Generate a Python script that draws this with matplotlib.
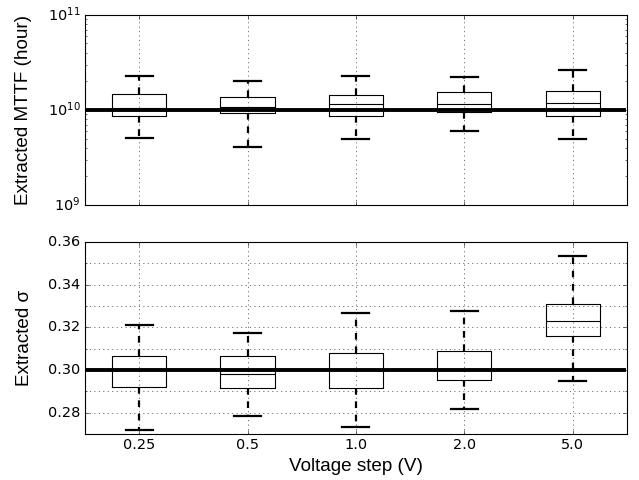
import numpy as np
import matplotlib
matplotlib.use('Agg')
import matplotlib.pyplot as plt
from matplotlib.ticker import MultipleLocator

plt.style.use('classic')

steps = ['0.25', '0.5', '1.0', '2.0', '5.0']

# extracted MTTF (hour)
mttf_lo = [5.04e9, 4.05e9, 4.95e9, 5.97e9, 5.0e9]
mttf_q1 = [8.65e9, 9.23e9, 8.65e9, 9.6e9, 8.65e9]
mttf_med = [1.057e10, 1.08e10, 1.16e10, 1.15e10, 1.19e10]
mttf_q3 = [1.47e10, 1.38e10, 1.44e10, 1.54e10, 1.60e10]
mttf_hi = [2.28e10, 2.03e10, 2.30e10, 2.24e10, 2.64e10]
mttf_true = 1e10

# extracted sigma
sig_lo = [0.2717, 0.2782, 0.2734, 0.2817, 0.2949]
sig_q1 = [0.2922, 0.2917, 0.2915, 0.2952, 0.3161]
sig_med = [0.2998, 0.2980, 0.3000, 0.3000, 0.3229]
sig_q3 = [0.3065, 0.3063, 0.3080, 0.3090, 0.3309]
sig_hi = [0.3210, 0.3175, 0.3266, 0.3278, 0.3535]
sig_true = 0.30


def make_stats(lo, q1, med, q3, hi):
    return [{'whislo': a, 'q1': b, 'med': c, 'q3': d, 'whishi': e, 'fliers': []}
            for a, b, c, d, e in zip(lo, q1, med, q3, hi)]


def draw_boxes(ax, stats):
    ax.bxp(stats, widths=0.5, showfliers=False,
           boxprops=dict(color='k', lw=1),
           medianprops=dict(color='k', lw=1),
           whiskerprops=dict(color='k', lw=2, ls='--'),
           capprops=dict(color='k', lw=2))


plt.rcParams['xtick.labelsize'] = 13
plt.rcParams['ytick.labelsize'] = 13

fig = plt.figure(figsize=(639 / 80., 6), dpi=80, facecolor='w')
ax1 = fig.add_axes([0.133, 0.573, 0.848, 0.396])
ax2 = fig.add_axes([0.133, 0.096, 0.848, 0.400])

LBL = dict(fontsize=17, family=['Liberation Sans', 'DejaVu Sans'], labelpad=14)

# top: MTTF
draw_boxes(ax1, make_stats(mttf_lo, mttf_q1, mttf_med, mttf_q3, mttf_hi))
ax1.set_yscale('log')
ax1.set_ylim(1e9, 1e11)
ax1.axhline(mttf_true, xmax=0.995, color='k', lw=3.5)
ax1.set_xlim(0.5, 5.5)
ax1.set_xticks(range(1, len(steps) + 1))
ax1.set_xticklabels([])
ax1.xaxis.grid(True)
ax1.set_ylabel('Extracted MTTF (hour)', **LBL)

# bottom: sigma
draw_boxes(ax2, make_stats(sig_lo, sig_q1, sig_med, sig_q3, sig_hi))
ax2.axhline(sig_true, xmax=0.995, color='k', lw=3.5)
ax2.set_xlim(0.5, 5.5)
ax2.set_ylim(0.27, 0.36)
ax2.yaxis.set_major_locator(MultipleLocator(0.02))
ax2.yaxis.set_minor_locator(MultipleLocator(0.01))
ax2.set_xticks(range(1, len(steps) + 1))
ax2.set_xticklabels(steps)
ax2.grid(True, which='both')
ax2.set_ylabel('Extracted \u03c3', **LBL)
ax2.set_xlabel('Voltage step (V)', fontsize=17,
               family=['Liberation Sans', 'DejaVu Sans'])

fig.savefig('out.png', dpi=80)
